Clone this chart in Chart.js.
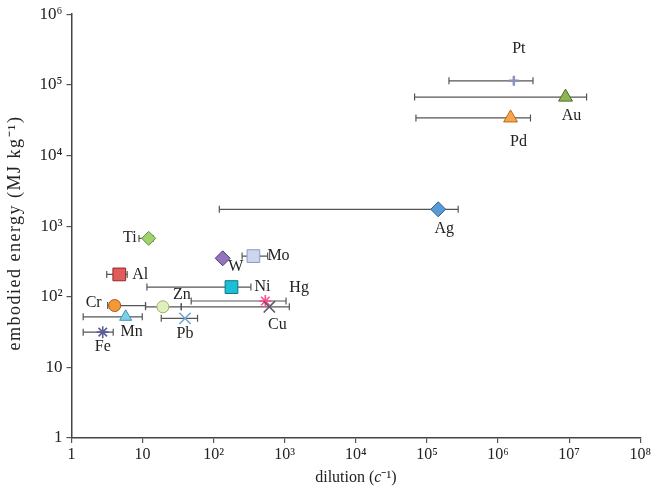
<!DOCTYPE html>
<html>
<head>
<meta charset="utf-8">
<script src="https://cdn.jsdelivr.net/npm/chart.js@4.4.1/dist/chart.umd.min.js"></script>
<style>
  body { margin: 0; background: #fff; }
  #wrap { width: 653px; height: 492px; }
</style>
</head>
<body>
<div id="wrap"><canvas id="dilutionChart" width="653" height="492"></canvas></div>
<script>
// metals and readings from the figure
const metals      = ['Pt', 'Au', 'Pd', 'Ag', 'Ti', 'W', 'Mo', 'Al', 'Ni', 'Hg', 'Zn', 'Cr', 'Cu', 'Mn', 'Pb', 'Fe'];
const dilution    = [1.67e6, 8.9e6, 1.5e6, 1.44e5, 12.2, 134, 362, 4.7, 178, 533, 19.3, 4.05, 607, 5.78, 39.5, 2.75];
const energy      = [1.14e5, 6.7e4, 3.4e4, 1730, 670, 350, 376, 207, 137, 87, 72, 75, 72, 52, 49.4, 31.5];
const dilutionLow = [2.04e5, 6.7e4, 7.0e4, 120, 8.9, null, 251, 3.13, 11.5, 48.3, 11.0, 3.23, 35, 1.46, 18.3, 1.46];
const dilutionHigh= [3.1e6, 1.76e7, 2.86e6, 2.75e5, 14, null, 574, 6.07, 334, 1042, 35, 11.0, 1158, 9.9, 59.3, 3.86];

const xTicks = [1, 10, 1e2, 1e3, 1e4, 1e5, 1e6, 1e7, 1e8];
const yTicks = [1, 10, 1e2, 1e3, 1e4, 1e5, 1e6];
const tickText = ['1', '10', '10²', '10³', '10⁴', '10⁵', '10⁶', '10⁷', '10⁸'];

// marker looks
const markerStyle = ['cross', 'triangle', 'triangle', 'rectRot', 'rectRot', 'rectRot', 'rect', 'rect', 'rect', 'star', 'circle', 'circle', 'crossRot', 'triangle', 'crossRot', 'star'];
const markerFill  = ['#8d90b8', '#8fb552', '#f7a54a', '#5b9bd5', '#9fd46c', '#9474bd', '#cdd5f0', '#e25b5b', '#1cc0d6', '#ff4d8d', '#dff0bd', '#f4983a', '#5a5a6a', '#7dd0ea', '#6ea8d4', '#5c5c96'];
const markerEdge  = ['#8d90b8', '#4f6a26', '#b86a18', '#2e5f8e', '#5f8f36', '#4e3a72', '#8f98c0', '#8e2a2a', '#0e7483', '#ff4d8d', '#9aae74', '#a85a14', '#5a5a6a', '#3f95b0', '#6ea8d4', '#5c5c96'];
const markerSize  = [5, 8, 8, 7.5, 7, 7.5, 9, 9, 9, 6, 6, 6, 8, 7, 8, 6];

// where each name sits relative to its marker
const labelPos = [
  [5, -32, 'center'], [6, 19, 'center'], [8, 24, 'center'], [6, 20, 'center'],
  [-12, -1, 'right'], [13, 8, 'center'], [14, 0, 'left'], [13, 0, 'left'],
  [23, 0, 'left'], [24, -13, 'left'], [10, -12, 'left'], [-13, -3, 'right'],
  [8, 18, 'center'], [6, 15, 'center'], [0, 15, 'center'], [0, 15, 'center']
];

const serif = "'Liberation Serif', 'Times New Roman', serif";

const datasets = [];

// horizontal error bars, one small line dataset each
metals.forEach((m, i) => {
  if (dilutionLow[i] == null) return;
  datasets.push({
    type: 'scatter',
    showLine: true,
    data: [{ x: dilutionLow[i], y: energy[i] }, { x: dilutionHigh[i], y: energy[i] }],
    borderColor: '#555',
    borderWidth: 1.2,
    pointStyle: 'line',
    pointRotation: 90,
    pointRadius: 3.5,
    pointBorderColor: '#555',
    pointBorderWidth: 1.2,
    pointHoverRadius: 3.5,
    order: 2
  });
});

datasets.push({
  type: 'scatter',
  data: metals.map((m, i) => ({ x: dilution[i], y: energy[i] })),
  pointStyle: markerStyle,
  pointRadius: markerSize,
  pointHoverRadius: markerSize,
  backgroundColor: markerFill,
  borderColor: markerEdge,
  pointBorderWidth: markerStyle.map(s => s === 'cross' ? 2.5 : (s === 'crossRot' || s === 'star') ? 1.6 : 1),
  order: 1
});

// names next to markers + axis titles
const annotate = {
  id: 'annotate',
  afterDatasetsDraw(chart) {
    const ctx = chart.ctx;
    const xs = chart.scales.x, ys = chart.scales.y;
    ctx.save();
    ctx.fillStyle = '#222';
    ctx.font = '16px ' + serif;
    ctx.textBaseline = 'middle';
    metals.forEach((m, i) => {
      const px = xs.getPixelForValue(dilution[i]);
      const py = ys.getPixelForValue(energy[i]);
      ctx.textAlign = labelPos[i][2];
      ctx.fillText(m, px + labelPos[i][0], py + labelPos[i][1]);
    });

    // y title
    ctx.save();
    ctx.translate(15, 233);
    ctx.rotate(-Math.PI / 2);
    ctx.textAlign = 'center';
    ctx.font = '18px ' + serif;
    ctx.letterSpacing = '1.5px';
    ctx.fillText('embodied energy (MJ kg⁻¹)', 0, 0);
    ctx.restore();

    // x title with italic c
    const parts = [['dilution (', '16px '], ['c', 'italic 16px '], ['⁻¹)', '16px ']];
    let total = 0;
    parts.forEach(p => { ctx.font = p[1] + serif; total += ctx.measureText(p[0]).width; });
    let x = (chart.chartArea.left + chart.chartArea.right) / 2 - total / 2;
    ctx.textAlign = 'left';
    parts.forEach(p => {
      ctx.font = p[1] + serif;
      ctx.fillText(p[0], x, 478);
      x += ctx.measureText(p[0]).width;
    });
    ctx.restore();
  }
};

const axisStyle = {
  type: 'logarithmic',
  grid: { display: true, drawOnChartArea: false, drawTicks: true, tickLength: 5, color: '#555', lineWidth: 1.2 },
  border: { display: true, color: '#444', width: 1.5 },
  ticks: {
    font: { family: serif, size: 16 },
    color: '#222',
    autoSkip: false,
    maxRotation: 0,
    callback: v => tickText[Math.round(Math.log10(v))]
  }
};

new Chart(document.getElementById('dilutionChart'), {
  type: 'scatter',
  data: { datasets: datasets },
  options: {
    responsive: false,
    devicePixelRatio: 1,
    animation: false,
    layout: { padding: { top: 9, right: 11.5, left: 0, bottom: 0 } },
    plugins: { legend: { display: false }, tooltip: { enabled: false } },
    scales: {
      x: Object.assign({}, axisStyle, {
        min: 1, max: 1e8,
        afterBuildTicks: s => { s.ticks = xTicks.map(v => ({ value: v })); },
        afterFit: s => { s.height = 54; },
        ticks: Object.assign({}, axisStyle.ticks, { padding: 2 })
      }),
      y: Object.assign({}, axisStyle, {
        min: 1, max: 1e6,
        afterBuildTicks: s => { s.ticks = yTicks.map(v => ({ value: v })); },
        afterFit: s => { s.width = 71.5; },
        ticks: Object.assign({}, axisStyle.ticks, { padding: 4, font: { family: serif, size: 17 } })
      })
    }
  },
  plugins: [annotate]
});
</script>
</body>
</html>
